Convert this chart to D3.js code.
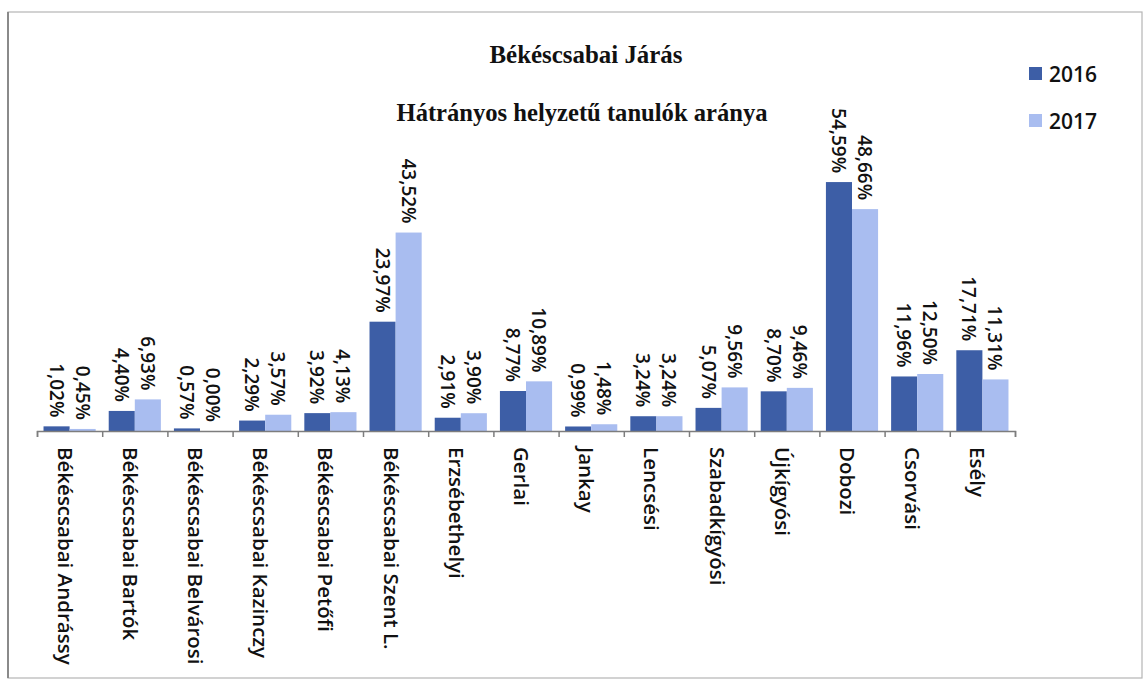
<!DOCTYPE html>
<html>
<head>
<meta charset="utf-8">
<script src="https://cdn.jsdelivr.net/npm/d3@7"></script>
<style>
  body { margin: 0; background: #fff; }
  text { fill: #111; }
</style>
</head>
<body>
<svg id="chart"></svg>
<script>
// data
const categories = ["Békéscsabai Andrássy", "Békéscsabai Bartók", "Békéscsabai Belvárosi",
  "Békéscsabai Kazinczy", "Békéscsabai Petőfi", "Békéscsabai Szent L.", "Erzsébethelyi",
  "Gerlai", "Jankay", "Lencsési", "Szabadkígyósi", "Újkígyósi", "Dobozi", "Csorvási", "Esély"];
const years = ["2016", "2017"];
const values2016 = [1.02, 4.40, 0.57, 2.29, 3.92, 23.97, 2.91, 8.77, 0.99, 3.24, 5.07, 8.70, 54.59, 11.96, 17.71];
const values2017 = [0.45, 6.93, 0.00, 3.57, 4.13, 43.52, 3.90, 10.89, 1.48, 3.24, 9.56, 9.46, 48.66, 12.50, 11.31];
const colors = ["#3d5ea6", "#a9bdf0"];

const W = 1146, H = 688;
const svg = d3.select("#chart").attr("width", W).attr("height", H);

// frame of the pasted chart
svg.append("rect").attr("x", 8).attr("y", 12).attr("width", 1134).attr("height", 666)
  .attr("fill", "none").attr("stroke", "#b5b5b5").attr("stroke-width", 1.2);
svg.append("line").attr("x1", 8).attr("x2", 8).attr("y1", 12).attr("y2", 678)
  .attr("stroke", "#8a8a8a").attr("stroke-width", 2);

const plot = { left: 37, right: 1015, base: 431 };

const x0 = d3.scaleBand().domain(categories).range([plot.left, plot.right]).padding(0);
const x1 = d3.scaleBand().domain(years).range([0, x0.bandwidth()]).paddingInner(0).paddingOuter(0.25);
const y = d3.scaleLinear().domain([0, 60]).range([plot.base, plot.base - 273.6]);

const rows = categories.map((c, i) => ({ cat: c, vals: [values2016[i], values2017[i]] }));

// bars
const groups = svg.append("g").selectAll("g").data(rows).join("g")
  .attr("transform", d => `translate(${x0(d.cat)},0)`);

groups.selectAll("rect").data(d => d.vals.map((v, k) => ({ v, k }))).join("rect")
  .attr("x", d => x1(years[d.k]))
  .attr("y", d => y(d.v))
  .attr("width", x1.bandwidth())
  .attr("height", d => y(0) - y(d.v))
  .attr("fill", d => colors[d.k]);

// value labels, rotated
groups.selectAll("text").data(d => d.vals.map((v, k) => ({ v, k }))).join("text")
  .attr("transform", d => `translate(${x1(years[d.k]) + x1.bandwidth() / 2},${y(d.v) - 9}) rotate(90)`)
  .attr("text-anchor", "end")
  .attr("dominant-baseline", "central")
  .style("font-family", "'Open Sans', sans-serif")
  .style("font-weight", 600)
  .style("font-size", "19px")
  .text(d => d.v.toFixed(2).replace(".", ",") + "%");

// x axis, ticks on the category boundaries
const edges = d3.scalePoint().domain(d3.range(categories.length + 1)).range([plot.left, plot.right]);
const axis = svg.append("g").attr("transform", `translate(0,${plot.base})`)
  .call(d3.axisBottom(edges).tickSize(6).tickFormat(""));
axis.select(".domain").attr("stroke", "#7d7d7d").attr("stroke-width", 1.5);
axis.selectAll(".tick line").attr("stroke", "#7d7d7d").attr("stroke-width", 1.5);

// category labels
svg.append("g").selectAll("text").data(categories).join("text")
  .attr("transform", d => `translate(${x0(d) + x0.bandwidth() / 2 - 4},${plot.base + 16}) rotate(90)`)
  .attr("text-anchor", "start")
  .attr("dominant-baseline", "central")
  .style("font-family", "'Open Sans', sans-serif")
  .style("font-weight", 600)
  .style("font-size", "20.5px")
  .text(d => d);

// titles
svg.append("text").attr("x", 586).attr("y", 63).attr("text-anchor", "middle")
  .attr("textLength", 193).attr("lengthAdjust", "spacingAndGlyphs")
  .style("font-family", "'Liberation Serif', serif").style("font-weight", "bold").style("font-size", "26px")
  .text("Békéscsabai Járás");
svg.append("text").attr("x", 582).attr("y", 121).attr("text-anchor", "middle")
  .attr("textLength", 371).attr("lengthAdjust", "spacingAndGlyphs")
  .style("font-family", "'Liberation Serif', serif").style("font-weight", "bold").style("font-size", "26px")
  .text("Hátrányos helyzetű tanulók aránya");

// legend
const legend = svg.append("g").selectAll("g").data(years).join("g")
  .attr("transform", (d, i) => `translate(1029,${74 + i * 47})`);
legend.append("rect").attr("x", 0).attr("y", -7).attr("width", 13).attr("height", 13)
  .attr("fill", (d, i) => colors[i]);
legend.append("text").attr("x", 20).attr("y", 0)
  .attr("dominant-baseline", "central")
  .style("font-family", "'Open Sans', sans-serif").style("font-weight", 600).style("font-size", "21px")
  .text(d => d);
</script>
</body>
</html>
